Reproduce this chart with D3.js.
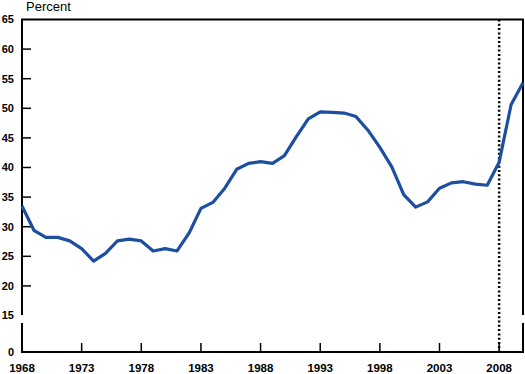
<!DOCTYPE html>
<html>
<head>
<meta charset="utf-8">
<script src="https://cdn.jsdelivr.net/npm/d3@7"></script>
<style>
  body { margin: 0; background: #fff; }
  text { font-family: "Liberation Sans", Arial, sans-serif; }
</style>
</head>
<body>
<div id="chart"></div>
<script>
// yearly values, percent
var years = d3.range(1968, 2011);
var values = [
  33.5, 29.4, 28.2, 28.2, 27.6, 26.3, 24.2, 25.5, 27.6, 27.9,
  27.6, 25.9, 26.3, 25.9, 28.9, 33.1, 34.1, 36.5, 39.7, 40.7,
  41.0, 40.7, 42.0, 45.2, 48.2, 49.4, 49.3, 49.2, 48.6, 46.3,
  43.4, 40.1, 35.4, 33.3, 34.2, 36.5, 37.4, 37.6, 37.2, 37.0,
  40.9, 50.6, 54.3
];
var xTicks = [1968, 1973, 1978, 1983, 1988, 1993, 1998, 2003, 2008];
var yTicks = [20, 25, 30, 35, 40, 45, 50, 55, 60];
var yLabels = [0, 15, 20, 25, 30, 35, 40, 45, 50, 55, 60, 65];
var markerYear = 2008;

function drawChart() {
  var width = 525, height = 374;
  var plotLeft = 22, plotRight = 523, plotTop = 19.5, plotBottom = 352;
  var breakTop = 315, breakBottom = 323;

  var svg = d3.select("#chart").append("svg")
    .attr("width", width)
    .attr("height", height);

  var x = d3.scaleLinear().domain([1968, 2010]).range([plotLeft, plotRight]);
  // broken axis: 0-15 squeezed below the break
  var y = d3.scaleLinear().domain([0, 15, 65]).range([plotBottom, breakTop + 0.5, plotTop]);

  // frame, with a gap for the break
  var frame = svg.append("g")
    .attr("stroke", "#000")
    .attr("stroke-width", 2)
    .attr("fill", "none");

  frame.append("path")
    .attr("d", "M" + plotLeft + "," + breakTop + "V" + plotTop + "H" + plotRight + "V" + breakTop);
  frame.append("path")
    .attr("d", "M" + plotLeft + "," + breakBottom + "V" + plotBottom + "H" + plotRight + "V" + breakBottom);

  // y ticks (inside)
  svg.append("g").selectAll("line")
    .data(yTicks)
    .enter().append("line")
    .attr("x1", plotLeft)
    .attr("x2", plotLeft + 9)
    .attr("y1", function (d) { return y(d); })
    .attr("y2", function (d) { return y(d); })
    .attr("stroke", "#000")
    .attr("stroke-width", 1.5);

  svg.append("g").selectAll("text")
    .data(yLabels)
    .enter().append("text")
    .attr("x", 14)
    .attr("y", function (d) { return y(d); })
    .attr("dy", "0.35em")
    .attr("text-anchor", "end")
    .attr("font-size", 11)
    .attr("font-weight", "bold")
    .text(function (d) { return d; });

  // x ticks (inside)
  svg.append("g").selectAll("line")
    .data(xTicks)
    .enter().append("line")
    .attr("x1", function (d) { return x(d); })
    .attr("x2", function (d) { return x(d); })
    .attr("y1", plotBottom)
    .attr("y2", plotBottom - 9)
    .attr("stroke", "#000")
    .attr("stroke-width", 1.5);

  svg.append("g").selectAll("text")
    .data(xTicks)
    .enter().append("text")
    .attr("x", function (d) { return x(d); })
    .attr("y", 372)
    .attr("text-anchor", "middle")
    .attr("font-size", 11.5)
    .attr("font-weight", "bold")
    .text(function (d) { return d; });

  svg.append("text")
    .attr("x", 26)
    .attr("y", 11)
    .attr("font-size", 13)
    .text("Percent");

  // dotted marker line
  svg.append("line")
    .attr("x1", x(markerYear))
    .attr("x2", x(markerYear))
    .attr("y1", plotTop)
    .attr("y2", plotBottom)
    .attr("stroke", "#000")
    .attr("stroke-width", 2.5)
    .attr("stroke-dasharray", "2,2.3");

  // series line
  var line = d3.line()
    .x(function (d, i) { return x(years[i]); })
    .y(function (d) { return y(d); });

  svg.append("path")
    .datum(values)
    .attr("d", line)
    .attr("fill", "none")
    .attr("stroke", "#1c4fa0")
    .attr("stroke-width", 3.2)
    .attr("stroke-linejoin", "round");
}

drawChart();
</script>
</body>
</html>
